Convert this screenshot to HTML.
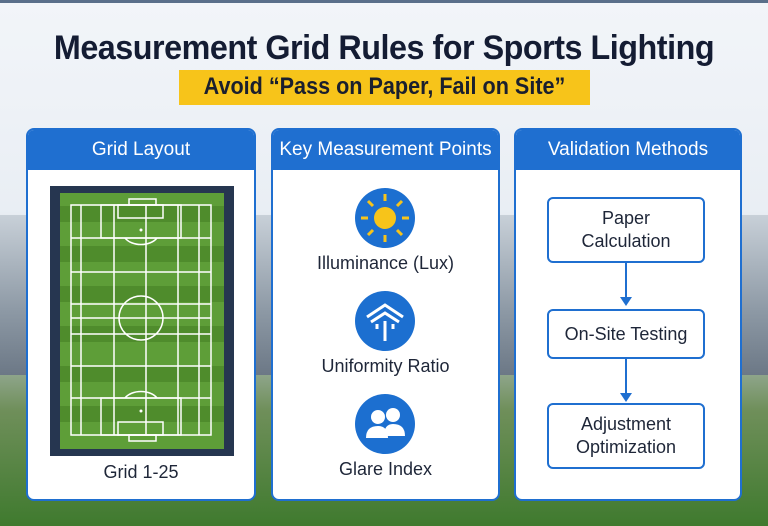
<!DOCTYPE html>
<html><head><meta charset="utf-8"><style>
*{margin:0;padding:0;box-sizing:border-box}
body{width:768px;height:526px;overflow:hidden;font-family:"Liberation Sans",sans-serif;position:relative;
background:linear-gradient(180deg,#f2f5f9 0%,#e9eef4 40%,#b9c3cc 62%,#6f8f5a 78%,#3f7a2e 100%);}
.bar{position:absolute;left:0;top:0;width:768px;height:3px;background:#5a6f8a}
.st{position:absolute;top:215px;height:160px;background:linear-gradient(180deg,#c8d0d8,#8d99a5 60%,#6c7886);}
h1{position:absolute;top:29px;left:0;width:768px;text-align:center;font-size:34px;font-weight:bold;color:#141c33;letter-spacing:-0.5px;transform:scaleX(0.95)}
.sub{position:absolute;left:179px;top:70px;width:411px;height:35px;background:#f7c41a;}
.subt{position:absolute;left:179px;top:73px;width:411px;text-align:center;font-size:24px;font-weight:bold;color:#1a1f2e;white-space:nowrap;transform:scaleX(0.9)}
.p{position:absolute;top:128px;height:373px;background:#fff;border:2px solid #1f6fd0;border-radius:8px;overflow:hidden}
.p .h{height:40px;background:#1f6fd0;color:#fff;font-size:19px;text-align:center;line-height:40px}
.lbl{position:absolute;width:100%;text-align:center;font-size:18px;color:#1e2638}
.c{position:absolute;left:82px;width:60px;height:60px;border-radius:50%;background:#1c6fd0}
.box{position:absolute;left:31px;width:158px;border:2px solid #1f6fd0;border-radius:6px;background:#fff;font-size:18px;color:#1e2638;text-align:center;display:flex;align-items:center;justify-content:center;line-height:23px}
.ar{position:absolute;left:109px;width:2px;background:#1f6fd0}
.ah{position:absolute;left:104px;width:0;height:0;border-left:6px solid transparent;border-right:6px solid transparent;border-top:9px solid #1f6fd0}
</style></head><body>
<div class="bar"></div>
<div class="st" style="left:0;width:28px"></div>
<div class="st" style="left:740px;width:28px"></div>
<div class="st" style="left:255px;width:17px"></div>
<div class="st" style="left:499px;width:16px"></div>
<h1>Measurement Grid Rules for Sports Lighting</h1>
<div class="sub"></div><div class="subt">Avoid “Pass on Paper, Fail on Site”</div>

<div class="p" style="left:26px;width:230px">
<div class="h">Grid Layout</div>
<svg style="position:absolute;left:22px;top:56px" width="184" height="270" viewBox="0 0 184 270">
<rect x="0" y="0" width="184" height="270" fill="#263650"/>
<rect x="10" y="7" width="164" height="256" fill="#5e9e38"/>
<g fill="#4f8c2c">
<rect x="10" y="20" width="164" height="16"/><rect x="10" y="60" width="164" height="16"/><rect x="10" y="100" width="164" height="16"/><rect x="10" y="140" width="164" height="16"/><rect x="10" y="180" width="164" height="16"/><rect x="10" y="220" width="164" height="16"/></g>
<g stroke="#fff" stroke-width="1.5" fill="none">
<rect x="21" y="19" width="140" height="230"/>
<line x1="31" y1="19" x2="31" y2="249"/><line x1="64" y1="19" x2="64" y2="249"/><line x1="96" y1="19" x2="96" y2="249"/><line x1="128" y1="19" x2="128" y2="249"/><line x1="149" y1="19" x2="149" y2="249"/>
<line x1="21" y1="52" x2="161" y2="52"/><line x1="21" y1="86" x2="161" y2="86"/><line x1="21" y1="118" x2="161" y2="118"/><line x1="21" y1="132" x2="161" y2="132"/><line x1="21" y1="148" x2="161" y2="148"/><line x1="21" y1="180" x2="161" y2="180"/><line x1="21" y1="212" x2="161" y2="212"/>
<rect x="51" y="19" width="80" height="33"/><rect x="68" y="19" width="45" height="13"/><rect x="79" y="13" width="27" height="6"/>
<rect x="51" y="212" width="80" height="37"/><rect x="68" y="236" width="45" height="13"/><rect x="79" y="249" width="27" height="6"/>
<circle cx="91" cy="132" r="22"/>
<path d="M75 52 A18 12 0 0 0 107 52"/><path d="M75 212 A18 12 0 0 1 107 212"/>
</g>
<circle cx="91" cy="44" r="1.5" fill="#fff"/><circle cx="91" cy="225" r="1.5" fill="#fff"/>
</svg>
<div class="lbl" style="top:332px">Grid 1-25</div>
</div>

<div class="p" style="left:271px;width:229px">
<div class="h">Key Measurement Points</div>
<div class="c" style="top:58px"><svg width="60" height="60" viewBox="0 0 60 60"><circle cx="30" cy="30" r="11" fill="#f7c41a"/><g stroke="#f7c41a" stroke-width="3"><line x1="30" y1="6" x2="30" y2="13"/><line x1="30" y1="47" x2="30" y2="54"/><line x1="6" y1="30" x2="13" y2="30"/><line x1="47" y1="30" x2="54" y2="30"/><line x1="13" y1="13" x2="18" y2="18"/><line x1="42" y1="42" x2="47" y2="47"/><line x1="47" y1="13" x2="42" y2="18"/><line x1="13" y1="47" x2="18" y2="42"/></g></svg></div>
<div class="lbl" style="top:123px">Illuminance (Lux)</div>
<div class="c" style="top:161px"><svg width="60" height="60" viewBox="0 0 60 60"><g stroke="#fff" stroke-width="3" fill="none"><path d="M12 26 L30 14 L48 26"/><path d="M16 31 L30 22 L44 31"/><line x1="30" y1="30" x2="30" y2="50"/><line x1="22" y1="33" x2="22" y2="38"/><line x1="38" y1="33" x2="38" y2="38"/></g></svg></div>
<div class="lbl" style="top:226px">Uniformity Ratio</div>
<div class="c" style="top:264px"><svg width="60" height="60" viewBox="0 0 60 60"><g fill="#fff"><circle cx="23" cy="23" r="7"/><circle cx="38" cy="21" r="7"/><path d="M11 44 Q11 32 23 32 Q33 32 33 44Z"/><path d="M29 42 Q29 30 38 30 Q50 30 50 42Z"/></g></svg></div>
<div class="lbl" style="top:329px">Glare Index</div>
</div>

<div class="p" style="left:514px;width:228px">
<div class="h">Validation Methods</div>
<div class="box" style="top:67px;height:66px">Paper<br>Calculation</div>
<div class="ar" style="top:133px;height:36px"></div><div class="ah" style="top:167px"></div>
<div class="box" style="top:179px;height:50px">On-Site Testing</div>
<div class="ar" style="top:229px;height:36px"></div><div class="ah" style="top:263px"></div>
<div class="box" style="top:273px;height:66px">Adjustment<br>Optimization</div>
</div>
</body></html>
